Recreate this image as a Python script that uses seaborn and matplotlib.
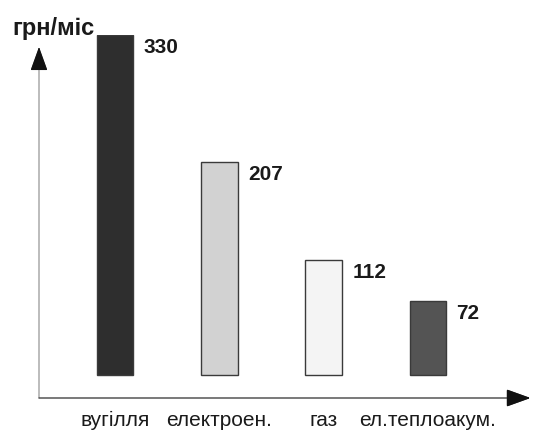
import matplotlib
matplotlib.use("Agg")
import matplotlib.pyplot as plt
import seaborn as sns
import pandas as pd

# Monthly heating cost by energy source
categories = ["вугілля", "електроен.", "газ", "ел.теплоакум."]
costs = [330, 207, 112, 72]
bar_colors = ["#2e2e2e", "#d2d2d2", "#f4f4f4", "#545454"]
y_unit = "грн/міс"

df = pd.DataFrame({"source": categories, "cost": costs})

sns.set_theme(style="white")
plt.rcParams["font.family"] = ["Liberation Sans", "DejaVu Sans"]

W, H = 539, 442
fig = plt.figure(figsize=(W / 100, H / 100), dpi=100)
# axes box: left edge at the y-axis, bottom edge at the x-axis
ax_left, ax_right, ax_bottom, ax_top = 39, 528, 398, 35
ax = fig.add_axes([ax_left / W, 1 - ax_bottom / H,
                   (ax_right - ax_left) / W, (ax_bottom - ax_top) / H])

sns.barplot(data=df, x="source", y="cost", hue="source", palette=bar_colors,
            legend=False, width=0.35, edgecolor="#3a3a3a", linewidth=1.0, ax=ax)

# bars rest slightly above the x-axis
ax.set_ylim(-22.3, 330)
ax.set_xlim(-0.73, 3.96)

for p, v in zip(ax.patches, costs):
    ax.text(p.get_x() + p.get_width() + 0.1, v - 3, str(v), ha="left", va="top",
            fontsize=15, fontweight="bold", color="#1a1a1a")

for s in ax.spines.values():
    s.set_visible(False)
ax.set_yticks([])
ax.set_xlabel("")
ax.set_ylabel("")
ax.tick_params(axis="x", length=0, pad=9, labelsize=15, colors="#1a1a1a")

# axis lines with arrowheads
ax.annotate("", xy=(0, 1 - 12 / (ax_bottom - ax_top)), xycoords="axes fraction",
            xytext=(0, 0), textcoords="axes fraction",
            arrowprops=dict(arrowstyle="-|>,head_length=1.25,head_width=0.45",
                            color="#8a8a8a", lw=0.8, shrinkA=0, shrinkB=0),
            annotation_clip=False)
ax.annotate("", xy=(0, 1 - 12 / (ax_bottom - ax_top)), xycoords="axes fraction",
            xytext=(0, 1 - 30 / (ax_bottom - ax_top)), textcoords="axes fraction",
            arrowprops=dict(arrowstyle="-|>,head_length=1.25,head_width=0.45",
                            color="#111111", lw=0.8, shrinkA=0, shrinkB=0),
            annotation_clip=False)
ax.annotate("", xy=(1.005, 0), xycoords="axes fraction",
            xytext=(0, 0), textcoords="axes fraction",
            arrowprops=dict(arrowstyle="-|>,head_length=1.25,head_width=0.45",
                            color="#444444", lw=1.0, shrinkA=0, shrinkB=0),
            annotation_clip=False)
ax.annotate("", xy=(1.005, 0), xycoords="axes fraction",
            xytext=(0.96, 0), textcoords="axes fraction",
            arrowprops=dict(arrowstyle="-|>,head_length=1.25,head_width=0.45",
                            color="#111111", lw=1.0, shrinkA=0, shrinkB=0),
            annotation_clip=False)

fig.text(12 / W, 1 - 28 / H, y_unit, ha="left", va="center",
         fontsize=17, fontweight="bold", color="#1a1a1a")

fig.savefig("out.png", dpi=100)
